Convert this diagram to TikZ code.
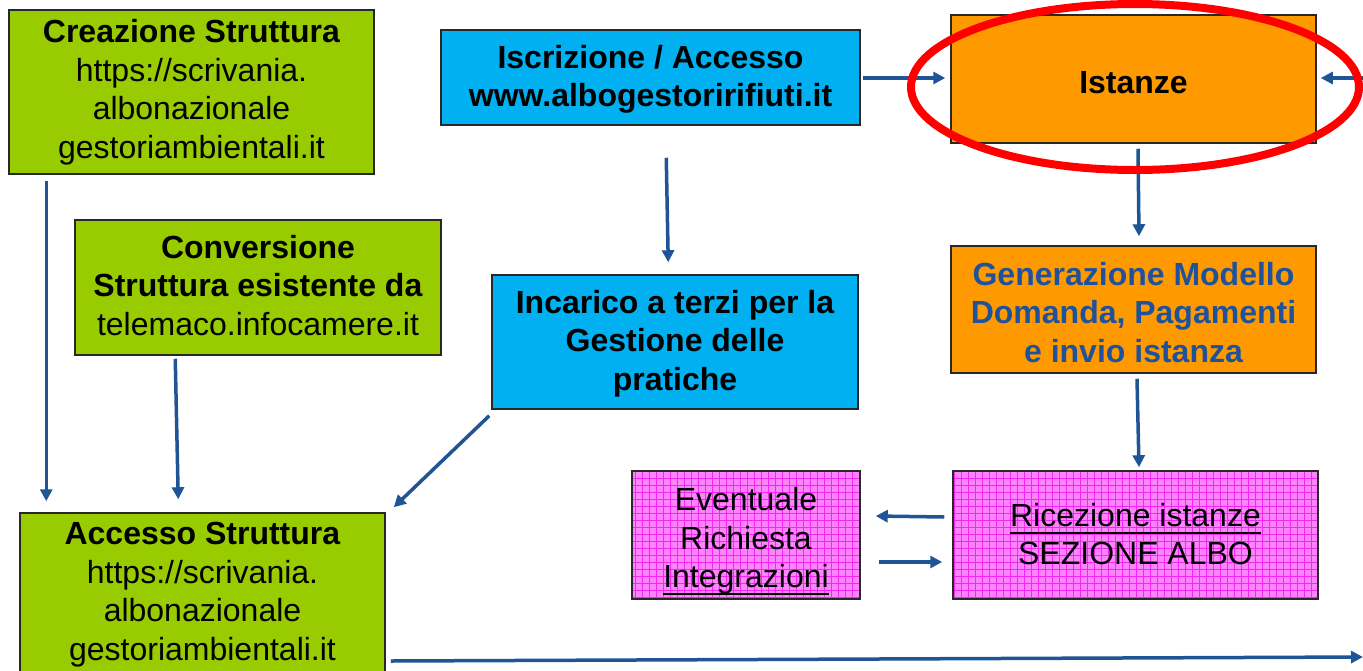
\documentclass[tikz,border=0pt]{standalone}
\usepackage{fontspec}
\setmainfont{Liberation Sans}
\usetikzlibrary{arrows.meta,calc}
\definecolor{cgreen}{RGB}{153,204,0}
\definecolor{cblue}{RGB}{0,176,240}
\definecolor{corange}{RGB}{255,153,0}
\definecolor{cpink}{RGB}{255,130,255}
\definecolor{cgrid}{RGB}{240,40,240}
\definecolor{carrow}{RGB}{31,84,150}
\definecolor{ctext}{RGB}{31,82,155}
\definecolor{cborder}{RGB}{40,40,40}
\newcommand\boxtext[2][0pt]{\raisebox{-#1}[\height][\depth]{\begin{tabular}{@{}c@{}}#2\end{tabular}}}
\newcommand\thickul[1]{\setbox0\hbox{#1}\rlap{\rule[-7.5pt]{\wd0}{2.3pt}}\box0}
\tikzset{
  box/.style={draw=cborder,line width=1.5pt,inner sep=0pt,
    font=\fontsize{32}{38.5}\selectfont},
  gbox/.style={box,fill=cgreen},
  bbox/.style={box,fill=cblue,font=\fontsize{32}{38.5}\selectfont\bfseries},
  obox/.style={box,fill=corange,font=\fontsize{32}{38.5}\selectfont\bfseries},
  pbox/.style={box,fill=cpink,
    path picture={\draw[cgrid,line width=0.7pt] (path picture bounding box.south west) grid[step=7pt] (path picture bounding box.north east);}},
  arr/.style={draw=carrow,line width=3.5pt,-{Triangle[length=12pt,width=12pt]}},
}
\begin{document}
\begin{tikzpicture}[x=1pt,y=1pt]
\useasboundingbox (0,0) rectangle (1363,-670);
\node[gbox,minimum width=365pt,minimum height=164pt] (cre) at (191.5,-92)
  {\boxtext[1pt]{\textbf{Creazione Struttura}\\https://scrivania.\\albonazionale\\gestoriambientali.it}};
\node[gbox,minimum width=366pt,minimum height=135pt] (con) at (258,-287.5)
  {\boxtext[1.6pt]{\textbf{Conversione}\\\textbf{Struttura esistente da}\\telemaco.infocamere.it}};
\node[bbox,minimum width=419pt,minimum height=95pt] (isc) at (650.5,-77.5)
  {\boxtext[2.4pt]{Iscrizione / Accesso\\www.albogestoririfiuti.it}};
\node[bbox,minimum width=366pt,minimum height=134pt] (inc) at (675,-342)
  {\boxtext[2.1pt]{Incarico a terzi per la\\Gestione delle\\pratiche}};
\node[obox,minimum width=365pt,minimum height=128pt] (ist) at (1133.5,-79)
  {\boxtext[6.6pt]{Istanze}};
\node[obox,text=ctext,minimum width=365pt,minimum height=127pt] (gen) at (1133.5,-309.5)
  {\boxtext[6.3pt]{Generazione Modello\\Domanda, Pagamenti\\e invio istanza}};
\node[pbox,minimum width=228pt,minimum height=128pt] (eve) at (746,-535)
  {\boxtext[6.6pt]{Eventuale\\Richiesta\\\thickul{Integrazioni}}};
\node[pbox,minimum width=365pt,minimum height=128pt] (ric) at (1135.5,-535)
  {\boxtext[3pt]{\thickul{Ricezione istanze}\\SEZIONE ALBO}};
\node[gbox,minimum width=365pt,minimum height=160pt] (acc) at (202.5,-593)
  {\boxtext[2pt]{\textbf{Accesso Struttura}\\https://scrivania.\\albonazionale\\gestoriambientali.it}};
\coordinate (rin) at (1366,-78);
\coordinate (rout) at (1363,-657);
% connectors
\draw[arr] ($(cre.south west)+(38,-6)$) -- ($(acc.north west)+(27,11)$);
\draw[arr] ($(con.south west)+(101,-3)$) -- ($(acc.north west)+(159,13)$);
\draw[arr] ($(isc.south west)+(226,-32)$) -- ($(inc.north west)+(177,12)$);
\draw[arr] ($(inc.south west)+(-2,-6)$) -- ($(acc.north east)+(8,5)$);
\draw[arr] ($(isc.east)+(2,-0.5)$) -- ($(ist.west)+(-5,1)$);
\draw[arr] (rin) -- ($(ist.east)+(4,1)$);
\draw[arr] ($(ist.south)+(4.5,-5)$) -- ($(gen.north)+(5.5,9)$);
\draw[arr] ($(gen.south)+(3.5,-5)$) -- ($(ric.north)+(3.5,3)$);
\draw[arr] ($(ric.west)+(-8,18)$) -- ($(eve.east)+(15,19)$);
\draw[arr] ($(eve.east)+(18,-27)$) -- ($(ric.west)+(-10,-27)$);
\draw[arr] ($(acc.east)+(5,-68)$) -- (rout);
% highlight
\draw[red,line width=8pt] (1135,-87) ellipse [x radius=224, y radius=83];
\end{tikzpicture}
\end{document}
